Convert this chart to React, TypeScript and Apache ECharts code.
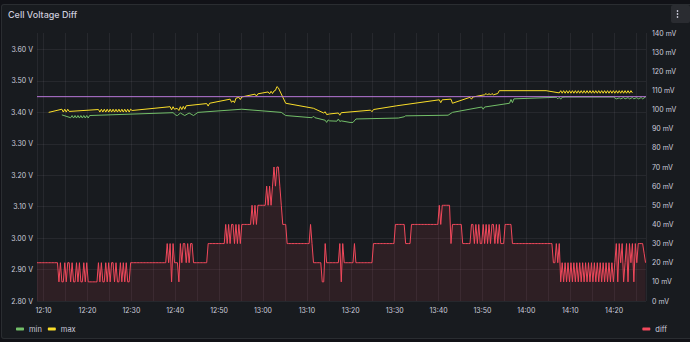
import React, { useEffect, useRef } from 'react';
import * as echarts from 'echarts';

// ---- time base: samples every 20 s starting 12:08:30 ----
const START = new Date(2024, 0, 1, 12, 8, 30).getTime();
const END = new Date(2024, 0, 1, 14, 27, 16).getTime();
const STEP_MS = 20000;

// ---- axis settings ----
const voltAxis = { min: 2.8, max: 3.6, step: 0.1 };
const mvAxis = { min: 0, max: 140, step: 10 };
const tickMinutes = 10;

// ---- legend names ----
const leftLegend = ['min', 'max'];
const rightLegend = ['diff'];

// ---- diff (mV), one value per 20 s sample ----
const diffMv = [
  20, 20, 20, 20, 20, 20, 20, 20, 20, 20, 20, 20, 20, 20, 20,
  10, 20, 10, 10, 20, 10, 20, 20, 10, 20, 10, 10, 20, 10, 20, 10, 10, 20, 10, 20, 10,
  10, 10, 10, 10, 10, 10,
  20, 10, 20, 10, 10, 20, 10, 20, 10, 20, 20, 10, 20, 10, 10, 20, 10, 20, 10, 20, 10, 10, 20,
  20, 20, 20, 20, 20, 20, 20, 20, 20, 20, 20, 20, 20, 20, 20, 20, 20, 20, 20, 20, 20, 20, 20, 20,
  30, 20, 30, 10, 30, 20,
  20, 20, 10,
  30, 20, 30, 30, 20, 30, 20, 30, 30, 20, 20,
  20, 20, 20, 20, 20, 20, 20, 20,
  30, 30, 30, 30, 30, 30, 30, 30, 30, 30, 30, 30,
  40, 30, 40, 30, 40, 40, 30, 40, 30, 40, 30, 40,
  40, 40, 40, 40, 40, 40,
  50, 40, 50, 40,
  50, 50, 50, 50, 50, 50,
  60, 50, 60, 50,
  60, 70, 60, 70, 70, 60,
  50, 40, 40, 40, 30,
  30, 30, 30, 30, 30, 30, 30, 30, 30, 30, 30, 30, 30, 30,
  30, 40, 30, 20, 20,
  20, 20, 20, 20,
  10, 10, 30, 20,
  20, 20, 20, 20, 20, 20, 20, 20,
  30, 10, 30, 20,
  20, 20, 20, 20, 20, 20, 30,
  20, 20, 20, 20, 20, 20, 20, 20, 20, 20, 20, 20,
  30, 30, 30, 30, 30, 30, 30, 30, 30, 30, 30, 30, 30, 30, 30,
  40, 40, 40, 40, 40, 40, 40,
  30, 30, 30, 30,
  40, 40, 40, 40, 40, 40, 40, 40, 40, 40, 40, 40, 40, 40, 40, 40, 40, 40, 40,
  50, 40, 50,
  50, 50, 50, 50,
  50, 30,
  40, 40, 40, 40, 40, 40,
  40, 30, 30,
  30, 30, 30, 30,
  40,
  40, 30, 40, 30, 40, 30, 30, 40, 30, 40, 30, 40, 30, 40, 40, 30, 40, 30, 40, 30,
  30, 30,
  40, 40, 40, 40, 40,
  30,
  30, 30, 30, 30, 30, 30, 30, 30, 30, 30, 30, 30, 30, 30, 30, 30, 30, 30, 30, 30, 30, 30, 30, 30, 30, 30, 30,
  20, 20, 30, 20, 30, 10, 20, 10, 20,
  10, 20, 10, 20, 10, 20, 10, 20, 10, 20, 10, 20, 10, 20, 10, 20, 10, 20, 10, 20, 10, 20, 10, 20, 10, 20, 10, 20, 10, 20, 10, 20, 10, 20,
  30, 10, 30, 20, 30, 10, 20, 30, 10, 30, 20, 30, 10, 30, 20, 30,
  30, 30, 30, 25, 20,
];

// ---- max cell voltage (V): [sample index, value] ----
const maxVolts: [number, number][] = [
  [8, 3.400], [17, 3.410], [18, 3.401], [19, 3.410], [20, 3.401], [21, 3.410], [22, 3.403], [42, 3.409],
  [43, 3.401], [44, 3.410], [45, 3.401], [46, 3.410], [47, 3.401], [48, 3.410], [49, 3.401], [50, 3.410],
  [51, 3.401], [52, 3.410], [53, 3.401], [54, 3.410], [55, 3.401], [56, 3.410], [57, 3.401], [58, 3.410],
  [59, 3.401], [60, 3.410], [61, 3.401], [62, 3.410], [63, 3.401], [64, 3.410], [65, 3.406],
  [91, 3.418], [92, 3.408], [93, 3.418], [94, 3.410], [95, 3.412], [96, 3.412], [97, 3.406], [98, 3.418],
  [99, 3.409], [100, 3.419], [101, 3.410], [102, 3.421],
  [116, 3.428], [117, 3.420], [118, 3.429], [132, 3.442], [133, 3.432], [134, 3.437], [135, 3.431], [136, 3.445],
  [138, 3.448], [139, 3.441], [140, 3.449], [149, 3.458], [150, 3.452], [151, 3.459],
  [158, 3.465], [159, 3.459], [160, 3.467], [161, 3.460], [162, 3.468], [163, 3.470], [164, 3.482], [165, 3.478],
  [170, 3.429], [189, 3.413], [196, 3.398], [197, 3.402], [198, 3.393], [200, 3.395],
  [206, 3.398], [207, 3.391], [208, 3.399], [228, 3.407], [229, 3.402], [230, 3.409], [246, 3.421],
  [275, 3.440], [276, 3.431], [277, 3.440], [283, 3.442], [284, 3.429], [296, 3.448], [297, 3.442], [298, 3.449],
  [306, 3.456], [307, 3.460], [308, 3.455], [309, 3.460], [310, 3.455], [311, 3.460], [312, 3.456],
  [315, 3.460], [316, 3.469], [348, 3.469], [357, 3.462],
  [358, 3.469], [359, 3.461], [360, 3.469], [361, 3.461], [362, 3.469], [363, 3.461], [364, 3.469], [365, 3.461],
  [366, 3.469], [367, 3.461], [368, 3.469], [369, 3.461], [370, 3.469], [371, 3.461], [372, 3.469], [373, 3.461],
  [374, 3.469], [375, 3.461], [376, 3.469], [377, 3.461], [378, 3.469], [379, 3.461], [380, 3.469], [381, 3.461],
  [382, 3.469], [383, 3.461], [384, 3.469], [385, 3.461], [386, 3.469], [387, 3.461], [388, 3.469], [389, 3.461],
  [390, 3.469], [391, 3.461], [392, 3.469], [393, 3.461], [394, 3.469], [395, 3.461], [396, 3.469], [397, 3.461],
  [398, 3.469], [399, 3.461], [400, 3.469], [401, 3.461], [402, 3.469], [403, 3.461], [404, 3.469], [405, 3.461],
  [406, 3.469], [407, 3.462],
];

// ---- min cell voltage (V): [sample index, value] ----
const minVolts: [number, number][] = [
  [17, 3.392], [23, 3.383],
  [24, 3.390], [25, 3.382], [26, 3.390], [27, 3.382], [28, 3.390], [29, 3.382], [30, 3.390], [31, 3.382],
  [32, 3.390], [33, 3.382], [34, 3.390], [35, 3.382], [36, 3.390],
  [93, 3.399], [95, 3.391], [96, 3.390], [98, 3.398], [101, 3.390], [104, 3.398], [107, 3.390], [110, 3.400],
  [140, 3.410], [167, 3.400], [170, 3.390], [188, 3.383], [189, 3.388], [190, 3.383],
  [197, 3.375], [198, 3.368], [199, 3.376], [200, 3.373], [205, 3.372], [206, 3.379], [207, 3.371], [208, 3.373],
  [214, 3.368], [216, 3.368], [218, 3.379], [247, 3.382], [251, 3.386], [252, 3.389], [281, 3.391], [284, 3.400],
  [304, 3.417], [305, 3.410], [306, 3.417], [323, 3.429], [324, 3.441], [325, 3.431], [326, 3.443],
  [355, 3.448], [356, 3.443], [357, 3.448], [358, 3.442], [359, 3.448], [361, 3.449], [394, 3.449],
  [396, 3.443], [398, 3.446], [399, 3.443], [401, 3.447], [402, 3.443], [404, 3.447], [405, 3.443],
  [407, 3.447], [408, 3.443], [410, 3.447], [411, 3.443], [413, 3.447], [414, 3.443], [416, 3.449],
];

// ---- constant limit line (V) ----
const limitVolts = 3.45;

const TEXT = '#ccccdc';
const GRID = 'rgba(204,204,220,0.08)';
const FONT = 'Inter, "Noto Sans", sans-serif';

const pad = (n: number) => (n < 10 ? '0' + n : '' + n);

export default function App() {
  const ref = useRef<HTMLDivElement>(null);

  useEffect(() => {
    document.body.style.margin = '0';
    document.body.style.background = '#111217';
    if (!ref.current) return;
    const chart = echarts.init(ref.current, null, { renderer: 'svg' });
    const t = (i: number) => START + i * STEP_MS;

    const diffData = diffMv.map((v, i) => [t(i), v]);
    const maxData = maxVolts.map(([i, v]) => [t(i), v]);
    const minData = minVolts.map(([i, v]) => [t(i), v]);
    const limitData = [[START, limitVolts], [END, limitVolts]];

    const legendBase = {
      top: 320,
      icon: 'roundRect',
      itemWidth: 8,
      itemHeight: 3,
      itemGap: 6,
      selectedMode: false,
      textStyle: { color: TEXT, fontSize: 7.5, fontFamily: FONT },
    };

    chart.setOption({
      animation: false,
      backgroundColor: 'transparent',
      textStyle: { fontFamily: FONT },
      grid: [
        { left: 37, right: 44, top: 33, bottom: 41 },
        { left: 37, right: 44, top: 49.5, bottom: 41 },
      ],
      xAxis: [
        {
          type: 'time',
          gridIndex: 0,
          min: START,
          max: END,
          minInterval: tickMinutes * 60000,
          maxInterval: tickMinutes * 60000,
          axisLine: { show: false },
          axisTick: { show: false },
          splitLine: { show: true, lineStyle: { color: GRID, width: 1 } },
          axisLabel: {
            color: TEXT,
            fontSize: 7,
            fontFamily: FONT,
            margin: 6,
            hideOverlap: false,
            formatter: (v: number) => {
              const d = new Date(v);
              if (d.getMinutes() % tickMinutes !== 0 || d.getSeconds() !== 0) return '';
              return pad(d.getHours()) + ':' + pad(d.getMinutes());
            },
          },
        },
        { type: 'time', gridIndex: 1, min: START, max: END, show: false },
      ],
      yAxis: [
        {
          type: 'value',
          gridIndex: 0,
          position: 'right',
          min: mvAxis.min,
          max: mvAxis.max,
          interval: mvAxis.step,
          axisLine: { show: false },
          axisTick: { show: false },
          splitLine: { show: false },
          axisLabel: { color: TEXT, fontSize: 7, fontFamily: FONT, margin: 6, formatter: '{value} mV' },
        },
        {
          type: 'value',
          gridIndex: 1,
          position: 'left',
          min: voltAxis.min,
          max: voltAxis.max,
          interval: voltAxis.step,
          axisLine: { show: false },
          axisTick: { show: false },
          splitLine: { show: true, lineStyle: { color: GRID, width: 1 } },
          axisLabel: {
            color: TEXT,
            fontSize: 7,
            fontFamily: FONT,
            margin: 4,
            formatter: (v: number) => v.toFixed(2) + ' V',
          },
        },
      ],
      legend: [
        { ...legendBase, left: 11, data: leftLegend },
        { ...legendBase, right: 18, data: rightLegend },
      ],
      series: [
        {
          name: 'diff',
          type: 'line',
          xAxisIndex: 0,
          yAxisIndex: 0,
          data: diffData,
          showSymbol: false,
          symbol: 'none',
          color: '#f2495c',
          lineStyle: { width: 1, color: '#f2495c' },
          areaStyle: { color: '#f2495c', opacity: 0.1 },
        },
        {
          name: 'min',
          type: 'line',
          xAxisIndex: 1,
          yAxisIndex: 1,
          data: minData,
          showSymbol: false,
          symbol: 'none',
          color: '#73bf69',
          lineStyle: { width: 1, color: '#73bf69' },
        },
        {
          name: 'max',
          type: 'line',
          xAxisIndex: 1,
          yAxisIndex: 1,
          data: maxData,
          showSymbol: false,
          symbol: 'none',
          color: '#fade2a',
          lineStyle: { width: 1, color: '#fade2a' },
        },
        {
          name: 'limit',
          type: 'line',
          xAxisIndex: 1,
          yAxisIndex: 1,
          data: limitData,
          showSymbol: false,
          symbol: 'none',
          color: '#b877d9',
          lineStyle: { width: 1, color: '#b877d9' },
        },
      ],
      graphic: [
        {
          type: 'text',
          left: 8,
          top: 10,
          style: { text: 'Cell Voltage Diff', fill: TEXT, fontSize: 9, fontWeight: 500, fontFamily: FONT },
        },
        {
          type: 'rect',
          shape: { x: 671, y: 5, width: 19, height: 18, r: 2 },
          style: { fill: '#2a2c31' },
        },
        { type: 'circle', shape: { cx: 677.5, cy: 11, r: 0.8 }, style: { fill: TEXT } },
        { type: 'circle', shape: { cx: 677.5, cy: 14, r: 0.8 }, style: { fill: TEXT } },
        { type: 'circle', shape: { cx: 677.5, cy: 17, r: 0.8 }, style: { fill: TEXT } },
      ],
    });

    return () => chart.dispose();
  }, []);

  return (
    <div style={{ position: 'relative', width: 690, height: 342, background: '#111217', overflow: 'hidden' }}>
      <div
        style={{
          position: 'absolute',
          left: 1,
          top: 4,
          width: 700,
          height: 335,
          background: '#181b1f',
          border: '1px solid rgba(204,204,220,0.10)',
          borderRadius: 3,
          boxSizing: 'border-box',
        }}
      />
      <div ref={ref} style={{ position: 'absolute', left: 0, top: 0, width: 690, height: 342 }} />
    </div>
  );
}
